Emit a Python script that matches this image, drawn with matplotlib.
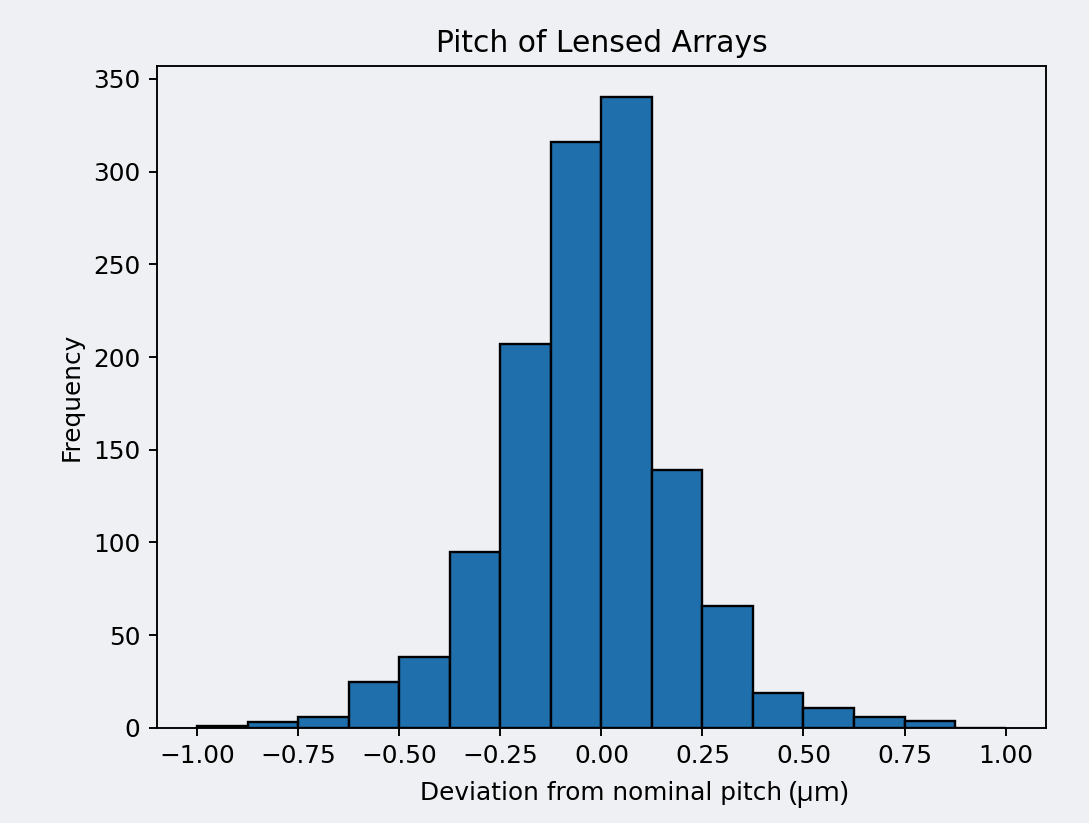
import numpy as np
import matplotlib
matplotlib.use('Agg')
import matplotlib.pyplot as plt

# histogram bins (um) and counts
bin_edges = np.linspace(-1.0, 1.0, 17)
counts = [1, 3, 6, 25, 38, 95, 207, 316, 340, 139, 66, 19, 11, 6, 4, 0]
x_ticks = [-1.00, -0.75, -0.50, -0.25, 0.00, 0.25, 0.50, 0.75, 1.00]

plt.rcParams['font.size'] = 10.5
bg = '#eff0f3'
fig = plt.figure(figsize=(1089 / 170, 823 / 170), dpi=170, facecolor=bg)
ax = fig.add_subplot(111)
ax.set_facecolor(bg)
fig.subplots_adjust(left=0.144, right=0.9605, top=0.92, bottom=0.1155)

centers = (bin_edges[:-1] + bin_edges[1:]) / 2
ax.hist(centers, bins=bin_edges, weights=counts, color='#1f6fad', edgecolor='black')

ax.set_xticks(x_ticks)
ax.set_title('Pitch of Lensed Arrays', fontsize=12.6)
xl = ax.set_xlabel('Deviation from nominal pitch', labelpad=5.5)
ax.set_ylabel('Frequency')

# unit appended after the label, in a slightly different face
fig.canvas.draw()
bb = xl.get_window_extent().transformed(fig.transFigure.inverted())
fig.text(bb.x1 + 0.006, bb.y0 - 0.0025, '(μm)', family='Open Sans', fontsize=12,
         ha='left', va='bottom')

fig.savefig('out.png', dpi=170, facecolor=bg)
